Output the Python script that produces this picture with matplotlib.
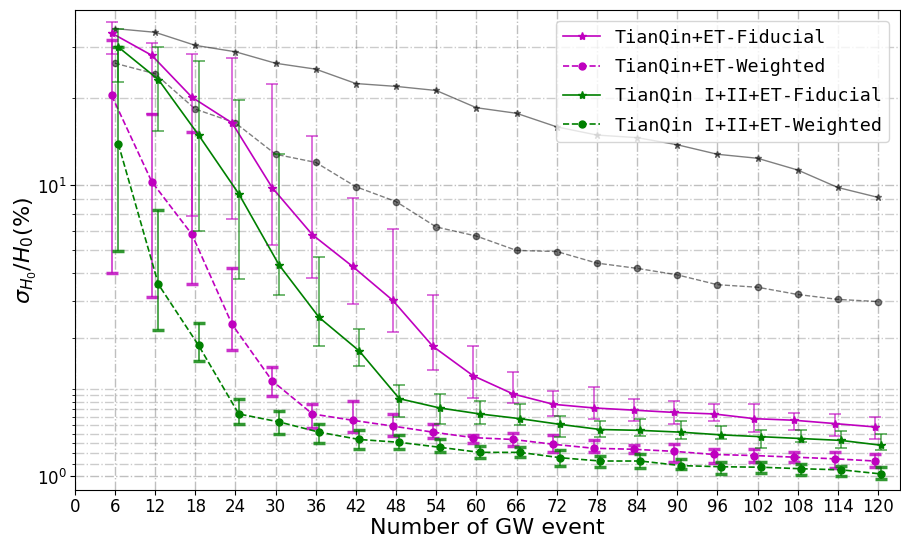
import numpy as np
import matplotlib
matplotlib.use('Agg')
import matplotlib.pyplot as plt
from matplotlib.ticker import NullFormatter

# number of GW events
n_event = [6, 12, 18, 24, 30, 36, 42, 48, 54, 60, 66, 72, 78, 84, 90, 96, 102, 108, 114, 120]

# TianQin+ET fiducial
tq_fid = [33.4, 28.0, 20.1, 16.4, 9.82, 6.77, 5.27, 4.03, 2.80, 2.22, 1.92, 1.77, 1.72, 1.69, 1.66, 1.64, 1.58, 1.56, 1.52, 1.48]
tq_fid_hi = [36.4, 30.9, 28.2, 27.4, 22.4, 14.8, 9.07, 7.06, 4.20, 2.80, 2.28, 1.97, 2.03, 1.84, 1.81, 1.78, 1.78, 1.65, 1.64, 1.60]
tq_fid_lo = [28.4, 17.6, 7.83, 7.68, 6.25, 4.80, 3.91, 3.13, 2.33, 1.86, 1.79, 1.61, 1.58, 1.55, 1.52, 1.55, 1.42, 1.44, 1.38, 1.35]

# TianQin+ET weighted
tq_w = [20.4, 10.3, 6.79, 3.33, 2.13, 1.64, 1.56, 1.49, 1.42, 1.36, 1.34, 1.29, 1.25, 1.24, 1.22, 1.19, 1.18, 1.165, 1.15, 1.13]
tq_w_hi = [31.7, 17.6, 15.3, 5.21, 2.37, 1.78, 1.82, 1.64, 1.52, 1.39, 1.41, 1.39, 1.33, 1.28, 1.29, 1.245, 1.245, 1.21, 1.21, 1.19]
tq_w_lo = [5.01, 4.13, 4.57, 2.73, 1.89, 1.47, 1.42, 1.38, 1.36, 1.30, 1.27, 1.21, 1.21, 1.20, 1.12, 1.11, 1.12, 1.12, 1.07, 1.08]

# TianQin I+II+ET fiducial
tq2_fid = [29.9, 23.1, 14.9, 9.36, 5.34, 3.52, 2.70, 1.85, 1.72, 1.64, 1.58, 1.51, 1.45, 1.44, 1.42, 1.39, 1.37, 1.35, 1.33, 1.28]
tq2_fid_hi = [34.6, 29.9, 26.7, 19.7, 12.8, 5.66, 3.21, 2.07, 1.92, 1.82, 1.77, 1.61, 1.55, 1.57, 1.55, 1.49, 1.45, 1.45, 1.43, 1.40]
tq2_fid_lo = [22.6, 15.4, 7.00, 4.76, 4.19, 2.80, 2.39, 1.60, 1.51, 1.52, 1.50, 1.37, 1.37, 1.38, 1.34, 1.34, 1.25, 1.31, 1.25, 1.235]

# TianQin I+II+ET weighted
tq2_w = [13.9, 4.57, 2.82, 1.64, 1.54, 1.42, 1.34, 1.31, 1.26, 1.21, 1.21, 1.16, 1.13, 1.13, 1.09, 1.08, 1.076, 1.063, 1.054, 1.02]
tq2_w_hi = [29.9, 8.21, 3.37, 1.84, 1.68, 1.51, 1.45, 1.39, 1.34, 1.275, 1.26, 1.23, 1.18, 1.19, 1.15, 1.12, 1.12, 1.105, 1.09, 1.076]
tq2_w_lo = [5.95, 3.18, 2.49, 1.51, 1.40, 1.30, 1.245, 1.24, 1.21, 1.156, 1.17, 1.085, 1.08, 1.07, 1.057, 1.02, 1.026, 1.013, 1.00, 0.982]

# background (grey) curves, no legend entry
grey_fid = [34.6, 33.6, 30.3, 28.8, 26.3, 25.1, 22.4, 21.9, 21.2, 18.5, 17.7, 15.9, 14.9, 14.6, 13.8, 12.8, 12.4, 11.3, 9.84, 9.1]
grey_w = [26.3, 24.2, 18.3, 16.4, 12.8, 12.0, 9.9, 8.8, 7.2, 6.7, 5.98, 5.93, 5.41, 5.19, 4.93, 4.56, 4.47, 4.22, 4.06, 3.99]

x = np.array(n_event, dtype=float)
shift = 0.5

fig = plt.figure(figsize=(9.01, 5.40), dpi=100)
ax = fig.add_axes([0.083, 0.093, 0.916, 0.888])

ax.plot(x, grey_fid, '-', marker='*', color='k', alpha=0.5, lw=1.0, ms=5)
ax.plot(x, grey_w, '--', marker='o', color='k', alpha=0.5, lw=1.0, ms=4.5)


def err(v, hi, lo):
    v = np.array(v)
    return [v - np.array(lo), np.array(hi) - v]


ax.plot(x - shift, tq_fid, '-', marker='*', color='m', lw=1.2, ms=6, label='TianQin+ET-Fiducial')
ax.errorbar(x - shift, tq_fid, yerr=err(tq_fid, tq_fid_hi, tq_fid_lo), fmt='none',
            ecolor='m', elinewidth=1.2, capsize=4, capthick=1.2, alpha=0.65)
ax.plot(x - shift, tq_w, '--', marker='o', color='m', lw=1.2, ms=5, label='TianQin+ET-Weighted')
ax.errorbar(x - shift, tq_w, yerr=err(tq_w, tq_w_hi, tq_w_lo), fmt='none',
            ecolor='m', elinewidth=1.2, capsize=4, capthick=2.5, alpha=0.8)
ax.plot(x + shift, tq2_fid, '-', marker='*', color='g', lw=1.2, ms=6, label='TianQin I+II+ET-Fiducial')
ax.errorbar(x + shift, tq2_fid, yerr=err(tq2_fid, tq2_fid_hi, tq2_fid_lo), fmt='none',
            ecolor='g', elinewidth=1.2, capsize=4, capthick=1.2, alpha=0.65)
ax.plot(x + shift, tq2_w, '--', marker='o', color='g', lw=1.2, ms=5, label='TianQin I+II+ET-Weighted')
ax.errorbar(x + shift, tq2_w, yerr=err(tq2_w, tq2_w_hi, tq2_w_lo), fmt='none',
            ecolor='g', elinewidth=1.2, capsize=4, capthick=2.5, alpha=0.8)

ax.set_yscale('log')
ax.set_ylim(0.9, 40)
ax.set_xlim(0, 123.3)
ax.set_xticks(np.arange(0, 121, 6))
minor = [1.1, 1.2, 1.3, 1.4, 1.5, 1.6, 1.7, 1.8, 1.9, 2, 3, 4, 5, 6, 7, 8, 9, 20, 30]
ax.set_yticks(minor, minor=True)
ax.yaxis.set_minor_formatter(NullFormatter())
ax.tick_params(labelsize=12, pad=2.5)

ax.grid(True, which='major', ls='-.', color='grey', alpha=0.5, lw=1)
ax.grid(True, which='minor', axis='y', ls='-.', color='grey', alpha=0.4, lw=1)

ax.set_xlabel('Number of GW event', fontsize=16, labelpad=1)
ax.set_ylabel(r'$\sigma_{H_0}/H_0(\%)$', fontsize=16, labelpad=-2)
ax.legend(loc='upper right', prop={'family': 'monospace', 'size': 13.2},
          labelspacing=0.62, borderaxespad=0.6)

fig.savefig('out.png', dpi=100)
